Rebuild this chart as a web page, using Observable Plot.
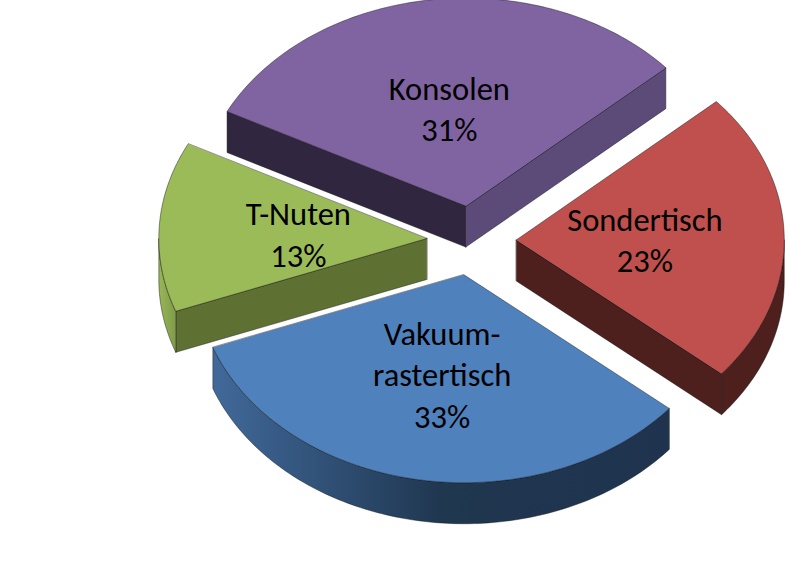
<!DOCTYPE html>
<html>
<head>
<meta charset="utf-8">
<style>html,body{margin:0;padding:0;background:#fff}svg{display:block}</style>
<script src="https://cdn.jsdelivr.net/npm/d3@7"></script>
<script src="https://cdn.jsdelivr.net/npm/@observablehq/plot@0.6"></script>
</head>
<body>
<script>
// Data
const categories = ["Vakuum-\nrastertisch", "T-Nuten", "Konsolen", "Sondertisch"];
const shares = [33.2, 13.2, 30.9, 22.7];
const topColors = ["#4f81bd", "#9bbb59", "#8064a2", "#c0504d"];
const startCutColors = ["#2f4d71", "#5f7132", "#31263f", "#4d1f1d"];
const endCutColors = ["#2f4d71", "#5f7132", "#5c4a78", "#4d1f1d"];
const wallColors = ["url(#wall-blue)", "url(#wall-green)", "#5c4a78", "#4d1f1d"];

// Pie geometry
const W = 785, H = 562;
const cx = 471, cy = 240, rx = 268, ry = 208, depth = 41;
const explode = 0.167, labelAt = 0.48, firstAngle = 40;

const rad = d => d * Math.PI / 180;
let cursor = firstAngle;
const slices = shares.map((v, i) => {
  const a0 = cursor, a1 = cursor + v * 3.6;
  cursor = a1;
  const mid = rad((a0 + a1) / 2);
  return {
    i, a0, a1,
    ax: cx + explode * rx * Math.cos(mid),
    ay: cy + explode * ry * Math.sin(mid),
    mid
  };
});
const rim = (s, a) => ({x: s.ax + rx * Math.cos(rad(a)), y: s.ay + ry * Math.sin(rad(a))});
const arc = (s, a0, a1) => {
  const n = Math.max(2, Math.ceil(Math.abs(a1 - a0)));
  return d3.range(n + 1).map(k => rim(s, a0 + (a1 - a0) * k / n));
};
const down = p => ({x: p.x, y: p.y + depth});
const apex = s => ({x: s.ax, y: s.ay});

const faceMark = (points, fill) => Plot.line(points, {
  x: "x", y: "y", fill, curve: "linear-closed",
  stroke: "#111", strokeWidth: 0.6, strokeOpacity: 0.75, strokeLinejoin: "round"
});

const faces = [];
slices.forEach(s => {
  const cut = (a, fill) => {
    const r = rim(s, a);
    faces.push(faceMark([apex(s), r, down(r), down(apex(s))], fill));
  };
  // a cut face shows only when its outward normal points towards the viewer
  if (Math.sin(rad(s.a0 - 90)) > 0) cut(s.a0, startCutColors[s.i]);
  if (Math.sin(rad(s.a1 + 90)) > 0) cut(s.a1, endCutColors[s.i]);
  // the outer wall shows only on the front half of the ellipse
  [[s.a0, s.a1], [s.a0 - 360, s.a1 - 360]].forEach(([p, q]) => {
    const lo = Math.max(p, 0), hi = Math.min(q, 180);
    if (hi > lo) {
      const top = arc(s, lo, hi);
      faces.push(faceMark([...top, ...top.slice().reverse().map(down)], wallColors[s.i]));
    }
  });
  faces.push(faceMark([apex(s), ...arc(s, s.a0, s.a1)], topColors[s.i]));
});

const labels = slices.map(s => ({
  x: s.ax + labelAt * rx * Math.cos(s.mid),
  y: s.ay + labelAt * ry * Math.sin(s.mid),
  text: `${categories[s.i]}\n${Math.round(shares[s.i])}%`
}));

const gradients = () => {
  const defs = d3.create("svg:defs");
  const grad = (id, x1, x2, stops) => {
    const g = defs.append("linearGradient").attr("id", id)
      .attr("gradientUnits", "userSpaceOnUse")
      .attr("x1", x1).attr("x2", x2).attr("y1", 0).attr("y2", 0);
    stops.forEach(([o, c]) => g.append("stop").attr("offset", o).attr("stop-color", c));
  };
  grad("wall-blue", 212, 668, [[0, "#41699a"], [0.2, "#33557d"], [0.5, "#203750"], [1, "#1f334e"]]);
  grad("wall-green", 157, 176, [[0, "#9bb858"], [1, "#7f9a48"]]);
  return defs.node();
};

const chart = Plot.plot({
  width: W, height: H,
  margin: 0,
  x: {domain: [0, W], range: [0, W], axis: null},
  y: {domain: [0, H], range: [0, H], axis: null},
  marks: [
    gradients,
    ...faces,
    Plot.text(labels, {
      x: "x", y: "y", text: "text",
      fontFamily: "Carlito, Lato, sans-serif", fontSize: 32.5,
      lineHeight: 1.27, fill: "#000", textAnchor: "middle"
    })
  ]
});
chart.style.background = "#fff";
document.body.appendChild(chart);
</script>
</body>
</html>
